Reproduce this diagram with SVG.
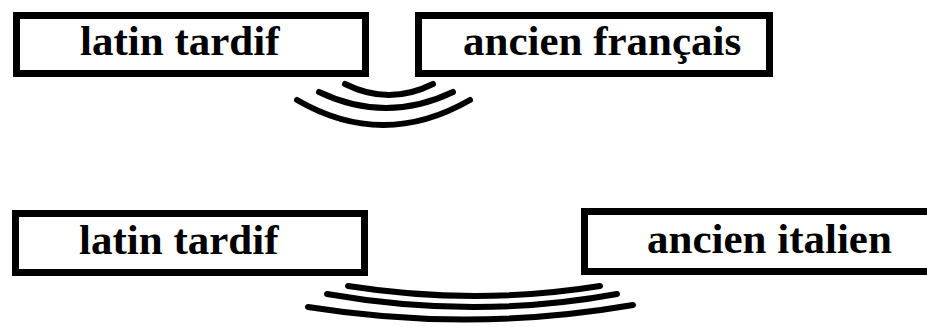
<svg xmlns="http://www.w3.org/2000/svg" width="927" height="327" viewBox="0 0 927 327">
<style>
.box{fill:#fff;stroke:#000;stroke-width:7}
.lbl{font-family:'Liberation Serif',serif;font-weight:700;font-size:43px;fill:#000}
.arc{fill:none;stroke:#000;stroke-width:6;stroke-linecap:round;stroke-linejoin:round}
</style>
<rect width="927" height="327" fill="#fff"/>
<g id="top-latin"><rect class="box" x="16.5" y="15.5" width="349" height="58"/><text class="lbl" x="80" y="55">latin tardif</text></g>
<g id="top-ancien-francais"><rect class="box" x="418.5" y="15.5" width="351" height="58"/><text class="lbl" x="463" y="55">ancien français</text></g>
<g id="bottom-latin"><rect class="box" x="15.5" y="213.5" width="349" height="59"/><text class="lbl" x="79" y="254">latin tardif</text></g>
<g id="bottom-ancien-italien"><rect class="box" x="584.5" y="211.5" width="360" height="60"/><text class="lbl" x="647" y="253">ancien italien</text></g>
<g id="connectors">
<path class="arc" d="M345,84 Q389,106 433,84"/>
<path class="arc" d="M319,92 Q386,124 453,92"/>
<path class="arc" d="M297,100 Q383,150 470,100"/>
<path class="arc" d="M348,286 Q475,306 600,286"/>
<path class="arc" d="M327,294 Q475,320 617,294"/>
<path class="arc" d="M308,307 Q470,333 633,305"/>
</g>
</svg>
